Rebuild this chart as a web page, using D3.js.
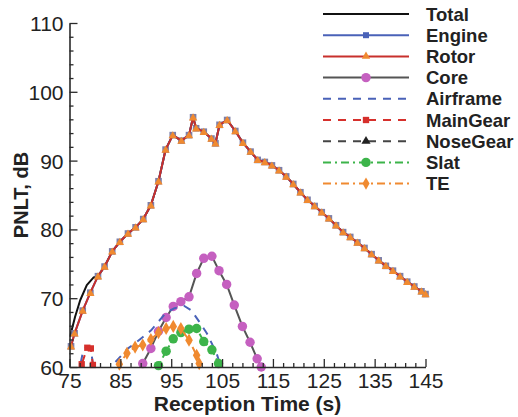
<!DOCTYPE html>
<html><head><meta charset="utf-8">
<script src="https://cdn.jsdelivr.net/npm/d3@7"></script>
<style>
body{margin:0;background:#fff}
svg{display:block;font-family:"Liberation Sans",Arial,Helvetica,sans-serif}
</style>
</head><body>
<svg id="chart" width="518" height="417"></svg>
<script>
// ---------- data ----------
const xTicks = [75, 85, 95, 105, 115, 125, 135, 145];
const yTicks = [60, 70, 80, 90, 100, 110];
const xMinorTicks = [77,79,81,83,87,89,91,93,97,99,101,103,107,109,111,113,117,119,121,123,127,129,131,133,137,139,141,143];
const yMinorTicks = [62,64,66,68,72,74,76,78,82,84,86,88,92,94,96,98,102,104,106,108];

const totalTime = [75.1,76.1,77.1,78.4,79.7,80.6,81.9,83.4,84.9,86.5,88.0,89.5,91.0,92.5,93.9,95.3,97.0,98.5,99.3,99.9,101.4,102.9,103.7,104.5,106.0,107.6,109.1,110.6,112.0,113.4,114.8,116.2,117.6,119.0,120.4,121.8,123.2,124.6,126.0,127.4,128.8,130.2,131.6,133.0,134.4,135.8,137.2,138.6,140.0,141.4,142.8,144.2,145.0];
const totalValues = [64.4,67.3,69.7,71.9,73.0,73.2,74.6,76.8,78.2,79.4,80.3,81.5,83.5,87.0,91.6,93.7,92.9,93.7,96.3,94.7,94.2,93.2,92.5,95.2,95.9,94.3,92.6,91.3,90.1,89.8,89.3,88.6,87.7,86.6,85.4,84.3,83.4,82.5,81.6,80.6,79.6,78.9,78.1,77.3,76.4,75.5,74.7,74.0,73.2,72.4,71.7,71.0,70.6];

const mainTime = [75.3,76.0,77.6,79.1,80.6,81.9,83.4,84.9,86.5,88.0,89.5,91.0,92.5,93.9,95.3,97.0,98.5,99.3,99.9,101.4,102.9,103.7,104.5,106.0,107.6,109.1,110.6,112.0,113.4,114.8,116.2,117.6,119.0,120.4,121.8,123.2,124.6,126.0,127.4,128.8,130.2,131.6,133.0,134.4,135.8,137.2,138.6,140.0,141.4,142.8,144.2,145.0];
const engineValues = [63.0,64.9,68.2,70.8,73.2,74.6,76.8,78.2,79.4,80.3,81.5,83.5,87.0,91.6,93.7,92.9,93.7,96.3,94.7,94.2,93.2,92.5,95.2,95.9,94.3,92.6,91.3,90.1,89.8,89.3,88.6,87.7,86.6,85.4,84.3,83.4,82.5,81.6,80.6,79.6,78.9,78.1,77.3,76.4,75.5,74.7,74.0,73.2,72.4,71.7,71.0,70.6];
const rotorValues = [63.0,64.9,68.2,70.8,73.2,74.6,76.8,78.2,79.4,80.3,81.5,83.5,87.0,91.6,93.7,92.9,93.7,96.3,94.7,94.2,93.2,92.5,95.2,95.9,94.3,92.6,91.3,90.1,89.8,89.3,88.6,87.7,86.6,85.4,84.3,83.4,82.5,81.6,80.6,79.6,78.9,78.1,77.3,76.4,75.5,74.7,74.0,73.2,72.4,71.7,71.0,70.6];

const coreTime = [88.6,89.4,91.0,92.5,94.0,95.4,96.9,98.5,100.0,101.4,103.0,104.4,105.9,107.4,109.0,110.5,111.9,112.7,113.4];
const coreValues = [59.0,60.5,62.7,65.2,67.2,68.8,69.5,70.2,73.6,75.8,76.1,74.0,72.0,69.0,65.9,63.6,61.2,60.0,58.8];

const airframeTime = [76.6,77.6,78.3,79.2,80.0,81.3,82.6,83.5,85.0,86.5,88.0,89.5,91.0,92.5,94.0,95.5,97.5,99.0,100.5,102.0,103.0,104.0,104.8,105.3];
const airframeValues = [58.5,62.0,63.0,62.5,58.5,56.0,58.5,60.3,61.5,62.7,63.5,64.4,65.3,66.6,67.9,68.5,68.9,68.2,66.6,64.9,63.4,61.8,60.0,59.0];

const mainGearTime = [76.8,77.4,78.5,79.2,79.6,80.2];
const mainGearValues = [58.5,60.4,62.8,62.7,60.3,58.5];

const noseGearTime = [80.0,85.0,90.0,95.0,100.0,105.0];
const noseGearValues = [55.0,57.0,58.2,58.6,58.0,56.5];

const slatTime = [91.8,92.5,94.0,95.4,96.9,98.5,100.0,101.4,103.0,104.3,105.0];
const slatValues = [59.0,60.2,62.3,64.1,65.0,65.5,65.6,63.7,62.5,60.5,59.0];

const teTime = [84.0,84.8,86.3,87.9,89.4,91.0,92.5,94.0,95.4,96.9,98.5,100.0,100.5,101.0];
const teValues = [59.0,60.4,62.0,62.9,63.2,64.0,65.0,65.6,65.9,65.6,63.9,61.7,60.5,59.0];

const seriesNames = ["Total","Engine","Rotor","Core","Airframe","MainGear","NoseGear","Slat","TE"];

// ---------- styles ----------
const styles = {
  Total:    {stroke:"#111111", width:2, dash:null,      marker:null,              fill:null,      size:0,  legSize:0},
  Engine:   {stroke:"#4a62b8", width:2, dash:null,      marker:d3.symbolSquare,   fill:"#7d7fa8", size:44, legSize:36},
  Rotor:    {stroke:"#c8302c", width:2, dash:null,      marker:d3.symbolTriangle, fill:"#f08a30", size:30, legSize:30},
  Core:     {stroke:"#555555", width:2, dash:null,      marker:d3.symbolCircle,   fill:"#c560c0", size:70, legSize:70},
  Airframe: {stroke:"#4a62b8", width:2, dash:"8,7",     marker:null,              fill:null,      size:0,  legSize:0},
  MainGear: {stroke:"#d6302c", width:2, dash:"8,7",     marker:d3.symbolSquare,   fill:"#d6302c", size:40, legSize:40},
  NoseGear: {stroke:"#444444", width:2, dash:"8,7",     marker:d3.symbolTriangle, fill:"#222222", size:40, legSize:36},
  Slat:     {stroke:"#3cb44a", width:2, dash:"8,4,2,4", marker:d3.symbolCircle,   fill:"#3cb44a", size:70, legSize:70},
  TE:       {stroke:"#f08a30", width:2, dash:"8,4,2,4", marker:d3.symbolDiamond,  fill:"#f08a30", size:50, legSize:44}
};

const seriesData = {
  Total:    d3.zip(totalTime, totalValues),
  Engine:   d3.zip(mainTime, engineValues),
  Rotor:    d3.zip(mainTime, rotorValues),
  Core:     d3.zip(coreTime, coreValues),
  Airframe: d3.zip(airframeTime, airframeValues),
  MainGear: d3.zip(mainGearTime, mainGearValues),
  NoseGear: d3.zip(noseGearTime, noseGearValues),
  Slat:     d3.zip(slatTime, slatValues),
  TE:       d3.zip(teTime, teValues)
};

// ---------- chart ----------
const svg = d3.select("#chart");
const x = d3.scaleLinear().domain([75,145]).range([69.5,425.5]);
const y = d3.scaleLinear().domain([60,110]).range([367,23]);

svg.append("defs").append("clipPath").attr("id","plotClip")
  .append("rect").attr("x",x(75)).attr("y",y(110)-2)
  .attr("width",x(145)-x(75)).attr("height",y(60)-y(110)+2);

const line = d3.line().x(d=>x(d[0])).y(d=>y(d[1]));

const plot = svg.append("g");
seriesNames.forEach(name=>{
  const st = styles[name];
  const data = seriesData[name];
  plot.append("path").datum(data)
    .attr("clip-path","url(#plotClip)")
    .attr("fill","none").attr("stroke",st.stroke).attr("stroke-width",st.width)
    .attr("stroke-dasharray",st.dash).attr("stroke-linejoin","round")
    .attr("d",line);
  if(st.marker){
    plot.append("g").selectAll("path").data(data.filter(d=>d[1]>=59.8 && d[1]<=110))
      .join("path")
      .attr("transform",d=>`translate(${x(d[0])},${y(d[1])+(name==="Rotor"?0.8:0)})`)
      .attr("d",d3.symbol().type(st.marker).size(st.size))
      .attr("fill",st.fill);
  }
});

// ---------- axes ----------
const axisColor = "#2a2a2a";
function styleAxis(g){
  g.selectAll(".domain").attr("stroke",axisColor).attr("stroke-width",1.6);
  g.selectAll(".tick line").attr("stroke",axisColor).attr("stroke-width",1.3);
  g.selectAll(".tick text").attr("fill","#222").style("font-size","21px");
}
const gx = svg.append("g").attr("transform",`translate(0,${y(60)})`);
gx.call(d3.axisBottom(x).tickValues(xTicks).tickSize(-8).tickSizeOuter(0).tickPadding(6).tickFormat(d3.format("d")));
styleAxis(gx);
const gxm = svg.append("g").attr("transform",`translate(0,${y(60)})`);
gxm.call(d3.axisBottom(x).tickValues(xMinorTicks).tickSize(-4).tickSizeOuter(0).tickFormat(""));
gxm.select(".domain").remove();
styleAxis(gxm);

const gy = svg.append("g").attr("transform",`translate(${x(75)},0)`);
gy.call(d3.axisLeft(y).tickValues(yTicks).tickSize(-8).tickSizeOuter(0).tickPadding(6).tickFormat(d3.format("d")));
styleAxis(gy);
gy.selectAll(".tick text").attr("dy","0.36em");
const gym = svg.append("g").attr("transform",`translate(${x(75)},0)`);
gym.call(d3.axisLeft(y).tickValues(yMinorTicks).tickSize(-4).tickSizeOuter(0).tickFormat(""));
gym.select(".domain").remove();
styleAxis(gym);

// axis titles
svg.append("text").attr("x",(x(75)+x(145))/2).attr("y",411)
  .attr("text-anchor","middle").attr("font-weight","bold").attr("font-size","21px").attr("fill","#222")
  .text("Reception Time (s)");
svg.append("text").attr("transform",`translate(28,${(y(60)+y(110))/2}) rotate(-90)`)
  .attr("text-anchor","middle").attr("font-weight","bold").attr("font-size","20px").attr("fill","#222")
  .text("PNLT, dB");

// ---------- legend ----------
const legend = svg.append("g");
seriesNames.forEach((name,i)=>{
  const st = styles[name];
  const ly = 14 + i*21.2;
  const g = legend.append("g").attr("transform",`translate(0,${ly})`);
  g.append("line").attr("x1",323).attr("x2",409).attr("y1",0).attr("y2",0)
    .attr("stroke",st.stroke).attr("stroke-width",2).attr("stroke-dasharray",st.dash);
  if(st.marker){
    g.append("path").attr("transform","translate(366,0)")
      .attr("d",d3.symbol().type(st.marker).size(st.legSize))
      .attr("fill",name==="Engine"?"#4a62b8":st.fill);
  }
  g.append("text").attr("x",426).attr("y",0).attr("dy","0.36em")
    .attr("font-weight","bold").attr("font-size","18.5px").attr("fill","#222")
    .text(name);
});
</script>
</body></html>
